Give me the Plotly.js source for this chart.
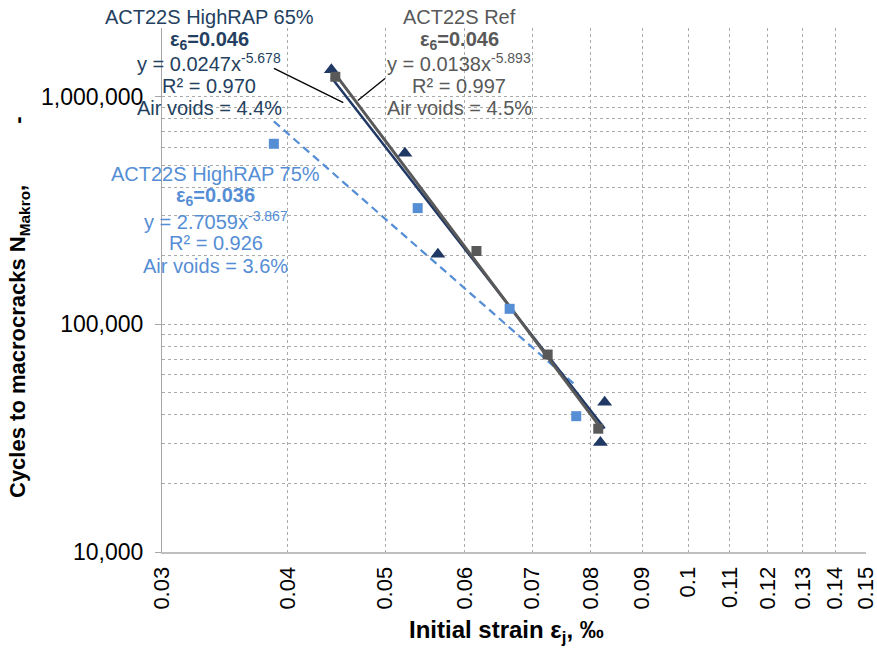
<!DOCTYPE html>
<html>
<head>
<meta charset="utf-8">
<script src="https://cdn.plot.ly/plotly-3.0.1.min.js"></script>
<style>
  html, body { margin: 0; padding: 0; background: #ffffff; }
  #chart { width: 877px; height: 648px; }
</style>
</head>
<body>
<div id="chart"></div>
<script>
// Fatigue test results: initial strain (‰) vs. cycles to macrocracks
const refStrain   = [0.0446, 0.0616, 0.0725, 0.0814];
const refCycles   = [1223000, 210000, 73700, 34800];
const rap65Strain = [0.0442, 0.0523, 0.0564, 0.0826, 0.0818];
const rap65Cycles = [1314000, 565000, 203000, 45500, 30300];
const rap75Strain = [0.03875, 0.05385, 0.06646, 0.0774];
const rap75Cycles = [621000, 324000, 117000, 39500];

// Power-law fits y = a * x^b, in order: HighRAP 65%, Ref, HighRAP 75%
const fitNames = ['ACT22S HighRAP 65%', 'ACT22S Ref', 'ACT22S HighRAP 75%'];
const fitA     = [0.0247, 0.0138, 2.7059];
const fitB     = [-5.678, -5.893, -3.867];
const fitR2    = ['0.970', '0.997', '0.926'];
const fitEps6  = ['0.046', '0.046', '0.036'];
const airVoids = ['4.4%', '4.5%', '3.6%'];

// Axis ticks
const xTickVals = [0.03, 0.04, 0.05, 0.06, 0.07, 0.08, 0.09, 0.1, 0.11, 0.12, 0.13, 0.14, 0.15];
const xTickText = ['0.03', '0.04', '0.05', '0.06', '0.07', '0.08', '0.09', '0.1', '0.11', '0.12', '0.13', '0.14', '0.15'];
const yTickVals = [10000, 100000, 1000000];
const yTickText = ['10,000', '100,000', '1,000,000'];

const NAVY = '#1F3864';
const NAVY_TEXT = '#243F60';
const GREY = '#595959';
const BLUE = '#558ED5';
const GRID = '#AAAAAA';

// minor log gridlines 2..9 in every decade up to 2,000,000
const yMinor = [];
[10000, 100000, 1000000].forEach(function (d) {
  for (let k = 2; k <= 9; k++) { if (k * d <= 2000000) yMinor.push(k * d); }
});

// trendline spans the x-range of its own series
function fitLine(strain, i) {
  const x0 = Math.min.apply(null, strain), x1 = Math.max.apply(null, strain);
  return {
    x: [x0, x1],
    y: [fitA[i] * Math.pow(x0, fitB[i]), fitA[i] * Math.pow(x1, fitB[i])]
  };
}
const fit65 = fitLine(rap65Strain, 0);
const fitRef = fitLine(refStrain, 1);
const fit75 = fitLine(rap75Strain, 2);

const traces = [
  { x: fit75.x, y: fit75.y, mode: 'lines', line: { color: BLUE, width: 2.25, dash: '8px,5px' }, hoverinfo: 'skip' },
  { x: fit65.x, y: fit65.y, mode: 'lines', line: { color: NAVY, width: 2.5 }, hoverinfo: 'skip' },
  { x: fitRef.x, y: fitRef.y, mode: 'lines', line: { color: GREY, width: 3 }, hoverinfo: 'skip' },
  { x: rap75Strain, y: rap75Cycles, mode: 'markers', name: fitNames[2],
    marker: { symbol: 'square', size: 10, color: BLUE } },
  { x: rap65Strain, y: rap65Cycles, mode: 'markers', name: fitNames[0],
    marker: { symbol: 'triangle-up', size: 13, color: NAVY } },
  { x: refStrain, y: refCycles, mode: 'markers', name: fitNames[1],
    marker: { symbol: 'square', size: 10, color: GREY } }
];

// plot frame in page pixels
const L = 162, R = 866, T = 28, B = 552;
function px(x) { return (x - L) / (R - L); }
function py(y) { return (B - y) / (B - T); }

const FONT = 'Liberation Sans, Arial, sans-serif';
const annotations = [];

// fit label blocks
const blockX = [209, 459, 215.5];
const blockY = [[16.7, 40, 62.7, 86, 108.3], [16.7, 40, 62.7, 86, 108.3], [174, 196.7, 220, 242.7, 265.7]];
const blockColor = [NAVY_TEXT, GREY, BLUE];
for (let i = 0; i < 3; i++) {
  const lines = [
    fitNames[i],
    '<b>ε<sub>6</sub>=' + fitEps6[i] + '</b>',
    'y = ' + fitA[i] + 'x<sup>' + fitB[i] + '</sup>',
    'R² = ' + fitR2[i],
    'Air voids = ' + airVoids[i]
  ];
  lines.forEach(function (t, k) {
    annotations.push({
      text: t, xref: 'paper', yref: 'paper', x: px(blockX[i]), y: py(blockY[i][k]),
      xanchor: 'center', yanchor: 'middle', showarrow: false,
      font: { family: FONT, size: 20, color: blockColor[i] }
    });
  });
}

// axis titles
annotations.push({
  text: '<b>Cycles to macrocracks N<sub>Makro</sub>,\u00a0\u00a0\u00a0\u00a0\u00a0\u00a0\u00a0\u00a0\u00a0\u00a0-</b>',
  xref: 'paper', yref: 'paper', x: px(19), y: py(307), textangle: -90,
  xanchor: 'center', yanchor: 'middle', showarrow: false,
  font: { family: FONT, size: 22, color: '#000000' }
});
annotations.push({
  text: '<b>Initial strain ε<sub>j</sub>, ‰</b>',
  xref: 'paper', yref: 'paper', x: px(506.5), y: py(631),
  xanchor: 'center', yanchor: 'middle', showarrow: false,
  font: { family: FONT, size: 24, color: '#000000' }
});

// leader lines from labels to trendlines
const shapes = [
  { type: 'line', xref: 'paper', yref: 'paper', x0: px(274), y0: py(68.3), x1: px(343.3), y1: py(102.7),
    line: { color: '#000000', width: 1.3 } },
  { type: 'line', xref: 'paper', yref: 'paper', x0: px(385), y0: py(78.5), x1: px(357.8), y1: py(100.5),
    line: { color: '#000000', width: 1.3 } }
];

const layout = {
  width: 877, height: 648,
  margin: { l: L, r: 877 - R, t: T, b: 648 - B, pad: 0 },
  paper_bgcolor: '#ffffff', plot_bgcolor: '#ffffff',
  showlegend: false,
  font: { family: FONT, color: '#000000' },
  xaxis: {
    type: 'log', range: [Math.log10(0.03), Math.log10(0.1502)],
    tickmode: 'array', tickvals: xTickVals, ticktext: xTickText, tickangle: -90,
    tickfont: { family: FONT, size: 22, color: '#000000' },
    ticks: '', ticklabelstandoff: 4, ticklabeloverflow: 'allow',
    showgrid: true, gridcolor: GRID, griddash: 'dot', gridwidth: 1,
    showline: true, linecolor: '#BFBFBF', linewidth: 2, zeroline: false
  },
  yaxis: {
    type: 'log', range: [4, Math.log10(2003000)],
    tickmode: 'array', tickvals: yTickVals, ticktext: yTickText,
    tickfont: { family: FONT, size: 23, color: '#000000' },
    ticks: 'outside', ticklen: 6, tickcolor: '#A6A6A6', tickwidth: 1, ticklabelstandoff: 7,
    showgrid: true, gridcolor: GRID, griddash: 'dot', gridwidth: 1,
    minor: { tickmode: 'array', tickvals: yMinor, showgrid: true, gridcolor: GRID, griddash: 'dot', gridwidth: 1, ticks: '' },
    showline: true, linecolor: '#A6A6A6', linewidth: 1, zeroline: false
  },
  annotations: annotations,
  shapes: shapes
};

Plotly.newPlot('chart', traces, layout, { staticPlot: true, displayModeBar: false });
</script>
</body>
</html>
